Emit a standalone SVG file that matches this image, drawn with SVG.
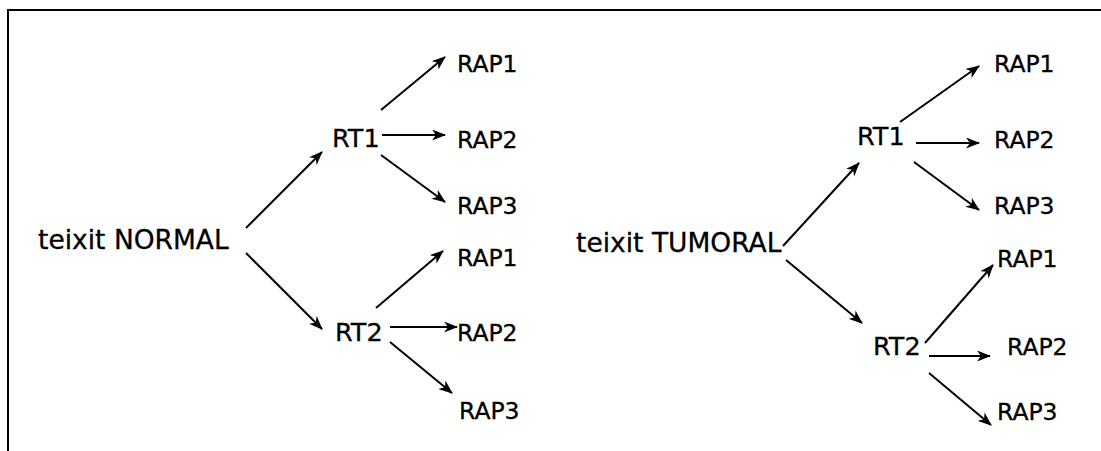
<svg xmlns="http://www.w3.org/2000/svg" width="1101" height="451" viewBox="0 0 1101 451">
<style>
text{font-family:"DejaVu Sans",Verdana,sans-serif;fill:#000;stroke:#000;stroke-width:0.3}
.big{font-size:26.5px}
.rt{font-size:25.5px}
.rap{font-size:23.5px}
.c line{stroke:#000;stroke-width:2;marker-end:url(#ah)}
</style>
<defs>
<marker id="ah" viewBox="0 0 14 11" refX="13" refY="5.5" markerWidth="14" markerHeight="11" markerUnits="userSpaceOnUse" orient="auto">
<path d="M0,0 L14,5.5 L0,11 L4,5.5 z" fill="#000"/>
</marker>
</defs>
<rect width="1101" height="451" fill="#fff"/>
<path d="M8,451 V10 H1101" fill="none" stroke="#000" stroke-width="2"/>
<g id="n-normal"><text class="big" x="38" y="249">teixit NORMAL</text></g>
<g id="n-l-rt1"><text class="rt" x="332" y="147">RT1</text></g>
<g id="n-l-rt2"><text class="rt" x="335" y="341">RT2</text></g>
<g id="n-l-rap1a"><text class="rap" x="457" y="72">RAP1</text></g>
<g id="n-l-rap2a"><text class="rap" x="457" y="148">RAP2</text></g>
<g id="n-l-rap3a"><text class="rap" x="457" y="214">RAP3</text></g>
<g id="n-l-rap1b"><text class="rap" x="457" y="266">RAP1</text></g>
<g id="n-l-rap2b"><text class="rap" x="457" y="341">RAP2</text></g>
<g id="n-l-rap3b"><text class="rap" x="459" y="419">RAP3</text></g>
<g id="n-tumoral"><text class="big" x="576" y="252">teixit TUMORAL</text></g>
<g id="n-r-rt1"><text class="rt" x="857" y="145">RT1</text></g>
<g id="n-r-rt2"><text class="rt" x="873" y="355">RT2</text></g>
<g id="n-r-rap1a"><text class="rap" x="994" y="72">RAP1</text></g>
<g id="n-r-rap2a"><text class="rap" x="994" y="148">RAP2</text></g>
<g id="n-r-rap3a"><text class="rap" x="994" y="214">RAP3</text></g>
<g id="n-r-rap1b"><text class="rap" x="997" y="267">RAP1</text></g>
<g id="n-r-rap2b"><text class="rap" x="1007" y="355">RAP2</text></g>
<g id="n-r-rap3b"><text class="rap" x="997" y="420">RAP3</text></g>
<g id="connectors" class="c">
<line x1="246" y1="228" x2="322" y2="152"/>
<line x1="246" y1="253" x2="322" y2="329"/>
<line x1="381" y1="110" x2="445" y2="57"/>
<line x1="382" y1="135" x2="445" y2="135"/>
<line x1="381" y1="155" x2="445" y2="202"/>
<line x1="376" y1="308" x2="443" y2="251"/>
<line x1="390" y1="327" x2="457" y2="327"/>
<line x1="390" y1="342" x2="452" y2="393"/>
<line x1="783" y1="246" x2="859" y2="163"/>
<line x1="786" y1="260" x2="862" y2="323"/>
<line x1="900" y1="122" x2="979" y2="66"/>
<line x1="916" y1="143" x2="979" y2="143"/>
<line x1="914" y1="162" x2="979" y2="210"/>
<line x1="925" y1="343" x2="993" y2="265"/>
<line x1="929" y1="356" x2="990" y2="356"/>
<line x1="929" y1="373" x2="991" y2="425"/>
</g>
</svg>
